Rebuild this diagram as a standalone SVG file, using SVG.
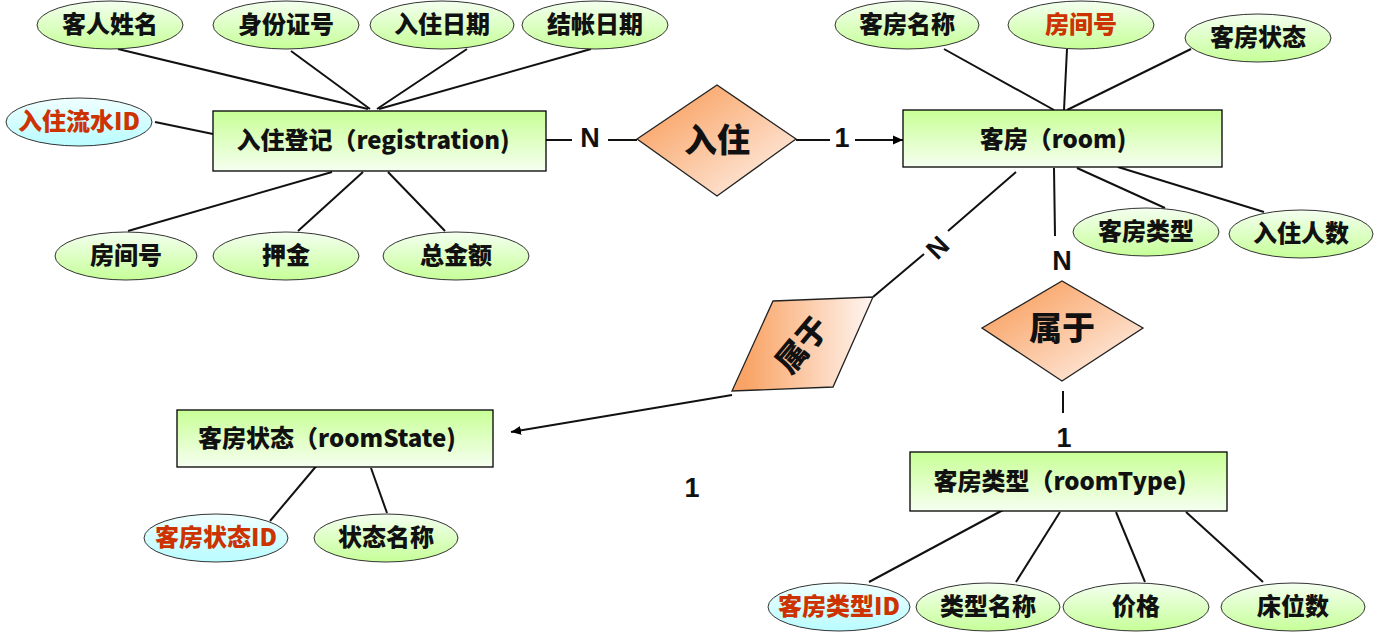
<svg xmlns="http://www.w3.org/2000/svg" width="1375" height="637" viewBox="0 0 1375 637">
<defs>
<linearGradient id="gEnt" x1="0" y1="0" x2="0" y2="1"><stop offset="0" stop-color="#c8ff96"/><stop offset="1" stop-color="#f6fff0"/></linearGradient>
<linearGradient id="gAttr" x1="0" y1="0" x2="0" y2="1"><stop offset="0" stop-color="#f4fff0"/><stop offset="1" stop-color="#c6ff98"/></linearGradient>
<linearGradient id="gKey" x1="0" y1="0" x2="0" y2="1"><stop offset="0" stop-color="#f0ffff"/><stop offset="1" stop-color="#b8fcff"/></linearGradient>
<linearGradient id="gRel" x1="0" y1="0" x2="1" y2="1"><stop offset="0.15" stop-color="#f9a466"/><stop offset="1" stop-color="#fff6f2"/></linearGradient>
<linearGradient id="gRel2" x1="0" y1="0" x2="1" y2="0"><stop offset="0.1" stop-color="#f9a466"/><stop offset="1" stop-color="#fff6f2"/></linearGradient>
<marker id="arr" viewBox="0 0 10 10" refX="10" refY="5" markerWidth="10" markerHeight="10" markerUnits="userSpaceOnUse" orient="auto"><path d="M0,0.5 L10,5 L0,9.5 Z" fill="#000"/></marker>
<style>
.ent{fill:url(#gEnt);stroke:#000;stroke-width:1.3}
.attr{fill:url(#gAttr);stroke:#333;stroke-width:1}
.key{fill:url(#gKey);stroke:#333;stroke-width:1}
.rel{fill:url(#gRel);stroke:#222;stroke-width:1.3}
.t{font-family:"Noto Sans CJK SC","Liberation Sans",sans-serif;font-weight:900;font-size:24px;fill:#111;text-anchor:middle}
.tk{fill:#cc3300}
.te{font-size:24px}
.tr{font-size:33px}
.num{font-family:"Liberation Sans",Arial,sans-serif;font-weight:bold;font-size:27px;fill:#111;text-anchor:middle}
#connectors line{stroke:#111;stroke-width:2}
</style>
</defs>
<rect width="1375" height="637" fill="#fff"/>

<g id="connectors">
<line x1="118" y1="49" x2="368" y2="109"/>
<line x1="291" y1="51" x2="370" y2="109"/>
<line x1="467" y1="49" x2="377" y2="109"/>
<line x1="591" y1="49" x2="379" y2="109"/>
<line x1="155" y1="122" x2="213" y2="134"/>
<line x1="128" y1="231" x2="332" y2="172"/>
<line x1="298" y1="231" x2="363" y2="172"/>
<line x1="445" y1="231" x2="388" y2="172"/>
<line x1="546" y1="140" x2="572" y2="140"/>
<line x1="608" y1="140" x2="637" y2="140"/>
<line x1="796" y1="140" x2="830" y2="140"/>
<line x1="855" y1="140" x2="903" y2="140" marker-end="url(#arr)"/>
<line x1="944" y1="49" x2="1054" y2="110"/>
<line x1="1067" y1="49" x2="1064" y2="110"/>
<line x1="1191" y1="49" x2="1067" y2="110"/>
<line x1="1077" y1="168" x2="1165" y2="208"/>
<line x1="1118" y1="167" x2="1264" y2="212"/>
<line x1="1016" y1="172" x2="948" y2="231"/>
<line x1="924" y1="254" x2="873" y2="297"/>
<line x1="1054" y1="168" x2="1055" y2="236"/>
<line x1="1063" y1="391" x2="1063" y2="413"/>
<line x1="732" y1="395" x2="511" y2="432" marker-end="url(#arr)"/>
<line x1="318" y1="464" x2="270" y2="521"/>
<line x1="371" y1="468" x2="387" y2="513"/>
<line x1="1003" y1="510" x2="869" y2="582"/>
<line x1="1060" y1="512" x2="1016" y2="582"/>
<line x1="1116" y1="512" x2="1145" y2="582"/>
<line x1="1186" y1="512" x2="1263" y2="582"/>
<text class="num" x="590" y="147">N</text>
<text class="num" x="842" y="147">1</text>
<text class="num" transform="translate(937,247) rotate(-45)" x="0" y="10">N</text>
<text class="num" x="1062" y="270">N</text>
<text class="num" x="1064" y="447">1</text>
<text class="num" x="692" y="497">1</text>
</g>

<g id="registration">
<rect class="ent" x="213" y="111" width="333" height="60"/>
<text class="t te" x="373" y="149">入住登记（registration)</text>
</g>
<g id="room">
<rect class="ent" x="903" y="110" width="319" height="57"/>
<text class="t te" x="1053" y="148">客房（room)</text>
</g>
<g id="roomState">
<rect class="ent" x="177" y="410" width="316" height="57"/>
<text class="t te" x="327" y="447">客房状态（roomState)</text>
</g>
<g id="roomType">
<rect class="ent" x="910" y="452" width="317" height="59"/>
<text class="t te" x="1060" y="490">客房类型（roomType)</text>
</g>

<g id="rel-checkin">
<polygon class="rel" points="637,139 717,85 796,139 717,196"/>
<text class="t tr" x="717" y="152">入住</text>
</g>
<g id="rel-belongs-state">
<polygon class="rel" style="fill:url(#gRel2)" points="773,301 873,297 833,387 732,391"/>
<text class="t tr" style="font-size:31px" transform="translate(802,345) rotate(-50)" x="0" y="11">属于</text>
</g>
<g id="rel-belongs-type">
<polygon class="rel" points="982,328 1062,281 1143,328 1062,381"/>
<text class="t tr" x="1062" y="340">属于</text>
</g>

<g id="attr-guestName"><ellipse class="attr" cx="110" cy="25" rx="73" ry="24"/><text class="t" x="110" y="33">客人姓名</text></g>
<g id="attr-idCard"><ellipse class="attr" cx="286" cy="25" rx="73" ry="24"/><text class="t" x="286" y="33">身份证号</text></g>
<g id="attr-checkinDate"><ellipse class="attr" cx="442" cy="25" rx="72" ry="24"/><text class="t" x="442" y="33">入住日期</text></g>
<g id="attr-checkoutDate"><ellipse class="attr" cx="595" cy="25" rx="73" ry="24"/><text class="t" x="595" y="33">结帐日期</text></g>
<g id="attr-regId"><ellipse class="key" cx="79" cy="122" rx="73" ry="24"/><text class="t tk" x="79" y="130">入住流水ID</text></g>
<g id="attr-roomNo1"><ellipse class="attr" cx="126" cy="256" rx="71" ry="24"/><text class="t" x="126" y="264">房间号</text></g>
<g id="attr-deposit"><ellipse class="attr" cx="286" cy="256" rx="73" ry="24"/><text class="t" x="286" y="264">押金</text></g>
<g id="attr-total"><ellipse class="attr" cx="456" cy="256" rx="73" ry="24"/><text class="t" x="456" y="264">总金额</text></g>

<g id="attr-roomName"><ellipse class="attr" cx="907" cy="25" rx="72" ry="24"/><text class="t" x="907" y="33">客房名称</text></g>
<g id="attr-roomNo2"><ellipse class="attr" cx="1081" cy="25" rx="73" ry="24"/><text class="t tk" x="1081" y="33">房间号</text></g>
<g id="attr-roomState"><ellipse class="attr" cx="1258" cy="38" rx="73" ry="24"/><text class="t" x="1258" y="46">客房状态</text></g>
<g id="attr-roomType"><ellipse class="attr" cx="1146" cy="232" rx="73" ry="24"/><text class="t" x="1146" y="240">客房类型</text></g>
<g id="attr-guests"><ellipse class="attr" cx="1301" cy="234" rx="72" ry="24"/><text class="t" x="1301" y="242">入住人数</text></g>

<g id="attr-stateId"><ellipse class="key" cx="216" cy="538" rx="72" ry="24"/><text class="t tk" x="216" y="546">客房状态ID</text></g>
<g id="attr-stateName"><ellipse class="attr" cx="386" cy="538" rx="72" ry="24"/><text class="t" x="386" y="546">状态名称</text></g>

<g id="attr-typeId"><ellipse class="key" cx="839" cy="607" rx="71" ry="24"/><text class="t tk" x="839" y="615">客房类型ID</text></g>
<g id="attr-typeName"><ellipse class="attr" cx="988" cy="607" rx="72" ry="24"/><text class="t" x="988" y="615">类型名称</text></g>
<g id="attr-price"><ellipse class="attr" cx="1136" cy="607" rx="73" ry="24"/><text class="t" x="1136" y="615">价格</text></g>
<g id="attr-beds"><ellipse class="attr" cx="1293" cy="607" rx="72" ry="24"/><text class="t" x="1293" y="615">床位数</text></g>
</svg>
